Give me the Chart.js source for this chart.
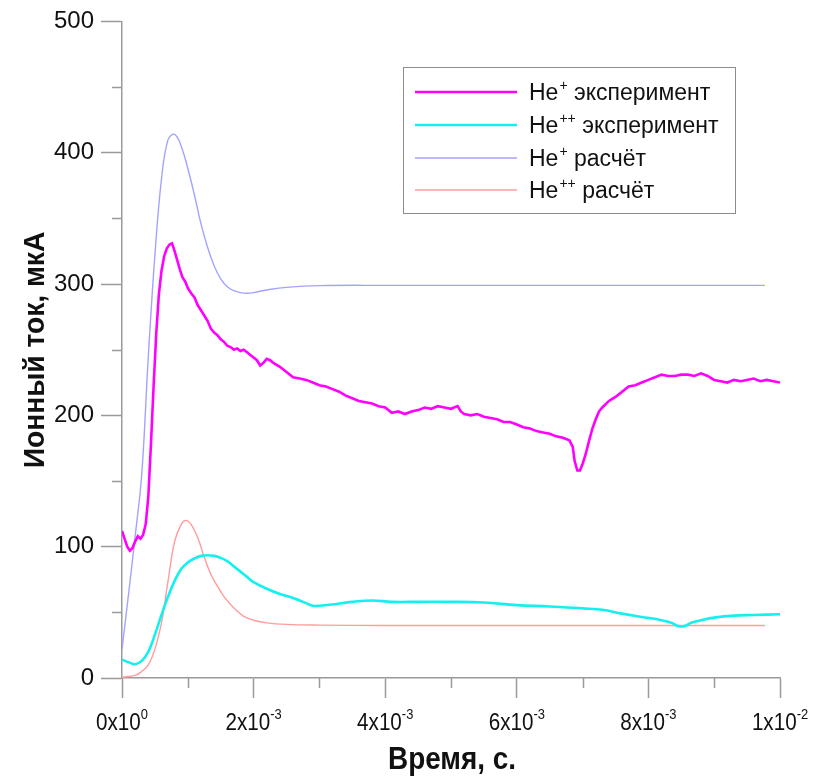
<!DOCTYPE html>
<html>
<head>
<meta charset="utf-8">
<script src="https://cdn.jsdelivr.net/npm/chart.js@4.4.1/dist/chart.umd.min.js"></script>
<style>
  html, body { margin: 0; padding: 0; background: #fff; }
  #chart { display: block; }
</style>
</head>
<body>
<canvas id="chart" width="817" height="776"></canvas>
<script>
// время в мс, ток в мкА
const hePlusExpT = [0.00, 0.04, 0.08, 0.12, 0.16, 0.20, 0.24, 0.28, 0.32, 0.36, 0.40, 0.44, 0.48, 0.52, 0.56, 0.60, 0.64, 0.68, 0.72, 0.76,
  0.80, 0.84, 0.88, 0.92, 0.96, 1.00, 1.05, 1.10, 1.15, 1.20, 1.25, 1.30, 1.35, 1.40, 1.45, 1.50, 1.55, 1.60, 1.65, 1.70,
  1.75, 1.80, 1.85, 1.90, 1.95, 2.00, 2.05, 2.10, 2.15, 2.20, 2.25, 2.30, 2.40, 2.50, 2.60, 2.70, 2.80, 2.90, 3.00, 3.10,
  3.20, 3.30, 3.40, 3.50, 3.60, 3.70, 3.80, 3.90, 4.00, 4.10, 4.20, 4.30, 4.40, 4.50, 4.60, 4.70, 4.80, 4.90, 5.00, 5.10,
  5.15, 5.20, 5.30, 5.40, 5.50, 5.60, 5.70, 5.80, 5.90, 6.00, 6.10, 6.20, 6.30, 6.40, 6.50, 6.60, 6.70, 6.80, 6.85, 6.88,
  6.92, 6.96, 7.00, 7.05, 7.10, 7.15, 7.20, 7.25, 7.30, 7.40, 7.50, 7.60, 7.70, 7.80, 7.90, 8.00, 8.10, 8.20, 8.30, 8.40,
  8.50, 8.60, 8.70, 8.80, 8.90, 9.00, 9.10, 9.20, 9.30, 9.40, 9.50, 9.60, 9.70, 9.80, 9.90, 10.00];
const hePlusExpI = [112, 106, 100, 97, 99, 104, 108, 106, 109, 117, 138, 178, 222, 262, 292, 310, 321, 327, 330, 331,
  325, 318, 311, 305, 302, 297, 293, 290, 284, 280, 276, 272, 266, 263, 261, 258, 256, 253, 252, 250,
  251, 249, 250, 248, 246, 244, 242, 238, 240, 243, 242, 240, 237, 233, 229, 228, 227, 225, 223, 222,
  220, 218, 215, 213, 211, 210, 209, 207, 206, 202, 203, 201, 203, 204, 206, 205, 207, 206, 205, 207,
  203, 201, 200, 201, 199, 198, 197, 195, 195, 193, 191, 190, 188, 187, 186, 184, 183, 181, 176, 165,
  158, 158, 163, 171, 181, 190, 197, 203, 206, 211, 214, 218, 222, 223, 225, 227, 229, 231, 230, 230,
  231, 231, 230, 232, 230, 227, 226, 225, 227, 226, 227, 228, 226, 227, 226, 225];

const hePPExpT = [0, 0.1, 0.2, 0.3, 0.4, 0.5, 0.6, 0.7, 0.8, 0.9, 1.0, 1.1, 1.2, 1.3, 1.4, 1.5, 1.6, 1.7, 1.8, 1.9,
  2.0, 2.2, 2.4, 2.6, 2.7, 2.8, 2.9, 3.0, 3.2, 3.5, 3.8, 4.1, 4.5, 5.0, 5.5, 6.0, 6.5, 7.0, 7.3, 7.6,
  7.9, 8.2, 8.35, 8.45, 8.55, 8.65, 8.8, 9.0, 9.3, 9.6, 10.0];
const hePPExpI = [14, 12, 10.5, 13, 20, 33, 48, 62, 74, 83, 88, 91, 93, 93.5, 93, 91.5, 89, 85, 81, 77,
  73, 68, 64, 61, 59, 57, 55, 55, 56, 58, 59, 58, 58, 58, 57.5, 55.5, 54.5, 53, 52, 49,
  46.5, 44, 42, 39.5, 39.5, 42, 44, 46, 47.5, 48, 48.5];

const hePlusCalcT = [0, 0.1, 0.2, 0.3, 0.4, 0.5, 0.6, 0.7, 0.8, 0.9, 1.0, 1.1, 1.2, 1.3, 1.4, 1.5, 1.6, 1.7, 1.8, 1.9,
  2.0, 2.2, 2.5, 3.0, 4.0, 6.0, 8.0, 9.77];
const hePlusCalcI = [22, 64, 108, 155, 245, 322, 380, 410, 414, 405, 388, 368, 346, 328, 314, 304, 298, 295, 293.5, 293,
  293.5, 295.5, 297.5, 298.8, 299, 299, 299, 299];

const hePPCalcT = [0, 0.2, 0.3, 0.4, 0.5, 0.6, 0.7, 0.8, 0.9, 0.97, 1.05, 1.15, 1.25, 1.35, 1.45, 1.55, 1.65, 1.75, 1.85, 2.0,
  2.2, 2.5, 3.0, 4.0, 9.77];
const hePPCalcI = [0.5, 2, 5, 10, 22, 42, 74, 104, 117, 120, 117, 107, 92, 79, 70, 62, 56, 51, 47, 44,
  42, 40.8, 40.3, 40, 40];

const xTicks = [0, 0.002, 0.004, 0.006, 0.008, 0.01];
const xTickMant = ['0x10', '2x10', '4x10', '6x10', '8x10', '1x10'];
const xTickExp = ['0', '-3', '-3', '-3', '-3', '-2'];
const xMinor = [0.001, 0.003, 0.005, 0.007, 0.009];
const yMinor = [50, 150, 250, 350, 450];

const legendNames = [['He', '+', ' эксперимент'], ['He', '++', ' эксперимент'], ['He', '+', ' расчёт'], ['He', '++', ' расчёт']];

function toPoints(ts, vals) {
  return ts.map((t, i) => ({ x: t * 1e-3, y: vals[i] }));
}

const series = [
  { data: toPoints(hePlusExpT, hePlusExpI), color: '#ff00ff', width: 2.6, tension: 0 },
  { data: toPoints(hePPExpT, hePPExpI), color: '#14f0f0', width: 2.6, tension: 0.4 },
  { data: toPoints(hePlusCalcT, hePlusCalcI), color: '#a3a3ff', width: 1.4, tension: 0.4 },
  { data: toPoints(hePPCalcT, hePPCalcI), color: '#ff9c9c', width: 1.4, tension: 0.4 }
];

const FONT = "'Liberation Sans', Arial, sans-serif";

const extras = {
  id: 'extras',
  afterDraw(chart) {
    const ctx = chart.ctx;
    const xs = chart.scales.x, ys = chart.scales.y;
    ctx.save();

    // мелкие деления
    ctx.strokeStyle = '#9a9a9a';
    ctx.lineWidth = 1.5;
    ctx.beginPath();
    xMinor.forEach(v => {
      const px = Math.round(xs.getPixelForValue(v)) + 0.5;
      ctx.moveTo(px, ys.bottom);
      ctx.lineTo(px, ys.bottom + 10);
    });
    yMinor.forEach(v => {
      const py = Math.round(ys.getPixelForValue(v)) + 0.5;
      ctx.moveTo(xs.left, py);
      ctx.lineTo(xs.left - 10, py);
    });
    ctx.stroke();

    // подписи оси X со степенями
    ctx.fillStyle = '#111';
    ctx.textBaseline = 'alphabetic';
    xTicks.forEach((v, i) => {
      const px = xs.getPixelForValue(v);
      ctx.save();
      ctx.translate(px, ys.bottom + 52);
      ctx.scale(0.86, 1);
      ctx.font = '24px ' + FONT;
      const mw = ctx.measureText(xTickMant[i]).width;
      ctx.font = '15px ' + FONT;
      const ew = ctx.measureText(xTickExp[i]).width;
      const start = -(mw + ew) / 2;
      ctx.font = '24px ' + FONT;
      ctx.fillText(xTickMant[i], start, 0);
      ctx.font = '15px ' + FONT;
      ctx.fillText(xTickExp[i], start + mw, -11);
      ctx.restore();
    });

    // название оси X
    ctx.save();
    ctx.translate(452, 769);
    ctx.scale(0.9, 1);
    ctx.font = 'bold 31px ' + FONT;
    ctx.textAlign = 'center';
    ctx.fillText('Время, с.', 0, 0);
    ctx.restore();

    // название оси Y
    ctx.save();
    ctx.translate(44, 350);
    ctx.rotate(-Math.PI / 2);
    ctx.scale(0.94, 1);
    ctx.font = 'bold 30px ' + FONT;
    ctx.textAlign = 'center';
    ctx.fillText('Ионный ток, мкА', 0, 0);
    ctx.restore();

    // легенда
    const bx = 403.5, by = 67.5, bw = 332, bh = 146;
    ctx.fillStyle = '#fff';
    ctx.fillRect(bx, by, bw, bh);
    ctx.strokeStyle = '#8c8c8c';
    ctx.lineWidth = 1;
    ctx.strokeRect(bx, by, bw, bh);
    const rows = [92, 125, 158, 190];
    series.forEach((s, i) => {
      ctx.strokeStyle = s.color;
      ctx.lineWidth = s.width;
      ctx.beginPath();
      ctx.moveTo(415, rows[i]);
      ctx.lineTo(517, rows[i]);
      ctx.stroke();
      const [base, sup, rest] = legendNames[i];
      ctx.fillStyle = '#111';
      ctx.textAlign = 'left';
      ctx.font = '23px ' + FONT;
      let tx = 529;
      ctx.fillText(base, tx, rows[i] + 8);
      tx += ctx.measureText(base).width + 1;
      ctx.font = '14px ' + FONT;
      ctx.fillText(sup, tx, rows[i] - 2);
      tx += ctx.measureText(sup).width;
      ctx.font = '23px ' + FONT;
      ctx.fillText(rest, tx, rows[i] + 8);
    });

    ctx.restore();
  }
};

new Chart(document.getElementById('chart'), {
  type: 'line',
  data: {
    datasets: series.map((s, i) => ({
      label: legendNames[i].join(''),
      data: s.data,
      borderColor: s.color,
      borderWidth: s.width,
      tension: s.tension,
      pointRadius: 0,
      fill: false
    }))
  },
  options: {
    responsive: false,
    animation: false,
    layout: { padding: { top: 21, right: 37, left: 0, bottom: 0 } },
    plugins: {
      legend: { display: false },
      tooltip: { enabled: false }
    },
    scales: {
      x: {
        type: 'linear',
        min: 0,
        max: 0.01,
        afterFit: s => { s.height = 98; },
        afterBuildTicks: s => { s.ticks = xTicks.map(v => ({ value: v })); },
        ticks: { callback: () => '', font: { size: 1 } },
        grid: { drawOnChartArea: false, drawTicks: true, tickLength: 20, tickColor: '#9a9a9a', tickWidth: 1.5 },
        border: { color: '#9a9a9a', width: 1.5 }
      },
      y: {
        min: 0,
        max: 500,
        afterFit: s => { s.width = 122; },
        ticks: { stepSize: 100, color: '#111', padding: 7, font: { size: 24, family: FONT } },
        grid: { drawOnChartArea: false, drawTicks: true, tickLength: 21, tickColor: '#9a9a9a', tickWidth: 1.5 },
        border: { color: '#9a9a9a', width: 1.5 }
      }
    }
  },
  plugins: [extras]
});
</script>
</body>
</html>
